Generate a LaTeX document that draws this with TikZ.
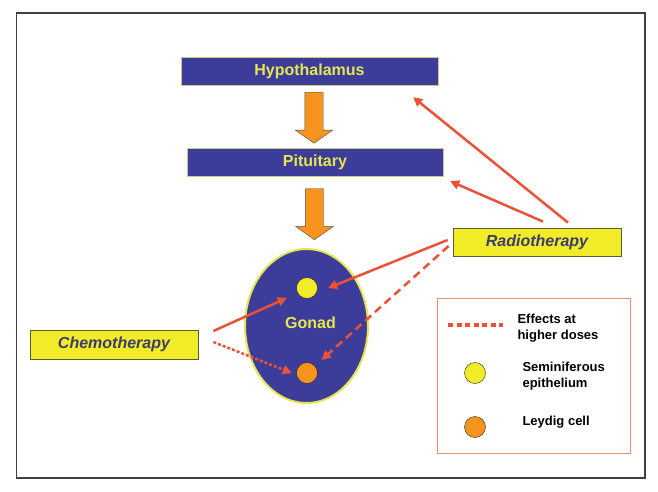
\documentclass[tikz,border=0pt]{standalone}
\usepackage{fontspec}
\setmainfont{Liberation Sans}
\usetikzlibrary{arrows.meta,shapes.geometric,shapes.arrows}
\definecolor{glandblue}{RGB}{60,60,155}
\definecolor{glandedge}{RGB}{205,200,130}
\definecolor{labelyellow}{RGB}{232,230,80}
\definecolor{therapyyellow}{RGB}{242,236,40}
\definecolor{therapyedge}{RGB}{90,90,60}
\definecolor{therapytext}{RGB}{60,60,110}
\definecolor{hormone}{RGB}{247,148,30}
\definecolor{effectred}{RGB}{236,82,56}
\definecolor{legendedge}{RGB}{236,140,120}
\begin{document}
\begin{tikzpicture}[x=1pt,y=-1pt,
  gland/.style={rectangle,draw=glandedge,fill=glandblue,text=labelyellow,minimum height=28pt,font=\fontsize{16}{19}\selectfont\bfseries},
  therapy/.style={rectangle,draw=therapyedge,line width=0.8pt,fill=therapyyellow,text=therapytext,minimum width=168pt,minimum height=28pt,font=\fontsize{16}{19}\selectfont\bfseries\itshape},
  bigarrow/.style={single arrow,draw=black!70,fill=hormone,rotate=-90,minimum height=51pt,single arrow head extend=9.5pt,single arrow tip angle=110,inner xsep=0pt,inner ysep=9pt},
  cell/.style={circle,draw=black!85,minimum size=21pt,inner sep=0pt},
  effect/.style={draw=effectred,line width=2.5pt,-{Triangle[length=9pt,width=9pt]}},
  highdose/.style={effect,dash pattern=on 3pt off 2pt},
  keytext/.style={anchor=west,align=left,font=\fontsize{13}{16}\selectfont\bfseries}]
\useasboundingbox (0,0) rectangle (658,492);
\draw[black!75,line width=1.5pt] (16.5,13) rectangle (645,478);

% glands
\node[gland,minimum width=257pt] (hypo) at (309.5,71) {Hypothalamus};
\node[gland,minimum width=256pt] (pit) at (315,162) {Pituitary};
\node[bigarrow] (down1) at (314,114.5) {};
\node[bigarrow] (down2) at (314.5,211) {};
\node[ellipse,draw=labelyellow,line width=2pt,fill=glandblue,minimum width=123pt,minimum height=154pt] (gonad) at (306.5,326) {};
\node[text=labelyellow,font=\fontsize{16}{19}\selectfont\bfseries] (gonadname) at (310.5,323) {Gonad};
\node[cell,fill=therapyyellow] (semi) at (307,288) {};
\node[cell,fill=hormone] (leydig) at (307,373) {};

% treatments
\node[therapy] (radio) at (537,242) {Radiotherapy};
\node[therapy,minimum height=29pt] (chemo) at (114,344.5) {Chemotherapy};
\draw[effect] ([xshift=31pt,yshift=5pt]radio.north) -- ([xshift=-25pt,yshift=-12pt]hypo.south east);
\draw[effect] ([xshift=6pt,yshift=6pt]radio.north) -- ([xshift=7pt,yshift=-5pt]pit.south east);
\draw[effect] ([xshift=-5pt,yshift=2pt]radio.west) -- ([xshift=10.5pt,yshift=0pt]semi.east);
\draw[effect,dash pattern=on 8pt off 5pt,shorten >=9pt] ([xshift=-4pt,yshift=-4pt]radio.west) -- (leydig);
\draw[effect] ([xshift=15pt,yshift=13.5pt]chemo.east) -- ([xshift=-9.5pt,yshift=-10pt]semi.west);
\draw[highdose] ([xshift=15pt,yshift=2.5pt]chemo.east) -- ([xshift=-4.5pt]leydig.west);

% legend
\node[draw=legendedge,line width=1pt,minimum width=193pt,minimum height=155pt] (legend) at (533.5,375.5) {};
\coordinate (dotA) at (448,325);
\coordinate (dotB) at (503,325);
\draw[effectred,line width=4pt,dash pattern=on 5pt off 3.5pt] (dotA) -- (dotB);
\node[keytext] (dottext) at (514,328) {Effects at\\higher doses};
\node[cell,fill=therapyyellow] (keysemi) at (475,373) {};
\node[keytext] (semitext) at (519,376) {Seminiferous\\epithelium};
\node[cell,fill=hormone] (keyleydig) at (475,427) {};
\node[keytext] (leydigtext) at (519,422) {Leydig cell};
\end{tikzpicture}
\end{document}
